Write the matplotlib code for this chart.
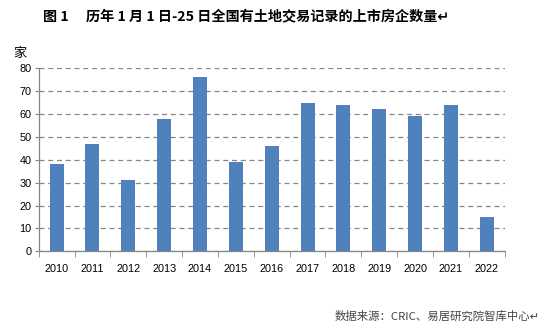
import matplotlib
matplotlib.use("Agg")
import matplotlib.pyplot as plt
import numpy as np

years = ["2010", "2011", "2012", "2013", "2014", "2015", "2016",
         "2017", "2018", "2019", "2020", "2021", "2022"]
counts = [38, 47, 31, 58, 76, 39, 46, 65, 64, 62, 59, 64, 15]
yticks = [0, 10, 20, 30, 40, 50, 60, 70, 80]

plt.rcParams['font.family'] = ['Noto Sans CJK SC', 'DejaVu Sans']

W, H = 552, 332
fig = plt.figure(figsize=(W / 100, H / 100), dpi=100)
ax = fig.add_axes([38.7 / W, 1 - 251.3 / H, (504.7 - 38.7) / W, (251.3 - 68.3) / H])

x = np.arange(len(years))
ax.bar(x, counts, width=0.39, color="#4F81BD", zorder=3)
ax.set_xlim(-0.5, len(years) - 0.5)
ax.set_ylim(0, 80)
ax.set_yticks(yticks)
ax.set_yticklabels([str(v) for v in yticks], fontsize=7.8, family='Liberation Sans')
ax.set_xticks(x)
ax.set_xticklabels(years, fontsize=7.8, family='Liberation Sans')
ax.tick_params(axis='x', length=0, pad=9)
ax.set_xticks(np.arange(-0.5, len(years), 1.0), minor=True)
ax.tick_params(axis='x', which='minor', length=4, color='#868686', direction='out')
ax.tick_params(axis='y', length=3, color='#868686', pad=2)
ax.yaxis.grid(True, linestyle=(0, (4, 3)), color='#868686', linewidth=0.9, zorder=0)
for s in ['top', 'right']:
    ax.spines[s].set_visible(False)
for s in ['left', 'bottom']:
    ax.spines[s].set_color('#868686')
    ax.spines[s].set_linewidth(0.9)

fig.text(246 / W, 1 - 17 / H, "图 1　 历年 1 月 1 日-25 日全国有土地交易记录的上市房企数量↵",
         ha='center', va='center', fontsize=10.2, fontweight='bold')
fig.text(20 / W, 1 - 53 / H, "家", ha='center', va='center', fontsize=9.5)
fig.text(540 / W, 1 - 316 / H, "数据来源：CRIC、易居研究院智库中心↵",
         ha='right', va='center', fontsize=8.2, color='#444444')

fig.savefig("out.png", dpi=100)
